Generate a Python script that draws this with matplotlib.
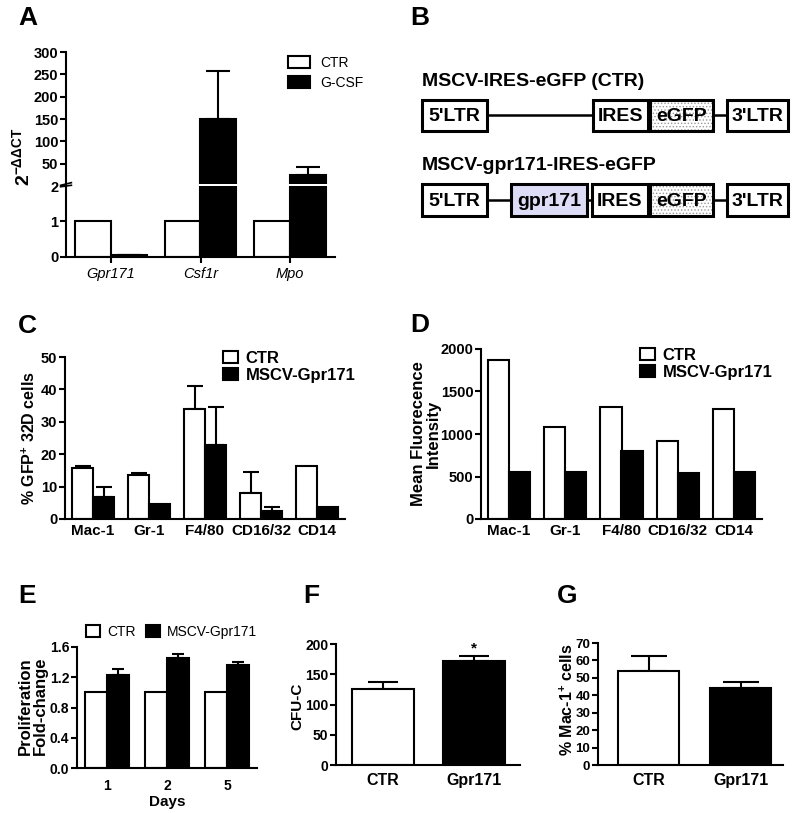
import numpy as np
import matplotlib
matplotlib.use('Agg')
import matplotlib.pyplot as plt
from matplotlib.patches import Patch, Rectangle

# --- data ---
# A: qPCR, 2^-ddCT
genes_a = ['Gpr171', 'Csf1r', 'Mpo']
ctr_a = [1, 1, 1]
gcsf_a = [0.05, 150, 25]
gcsf_a_err = [0.02, 108, 17]

# C / D: surface markers
markers = ['Mac-1', 'Gr-1', 'F4/80', 'CD16/32', 'CD14']
ctr_c = [15.6, 13.5, 34.0, 7.9, 16.4]
ctr_c_err = [0.7, 0.8, 7.2, 6.7, 0]
gpr_c = [6.8, 4.5, 22.8, 2.4, 3.6]
gpr_c_err = [3.0, 0, 11.9, 1.2, 0]
ctr_d = [1875, 1077, 1316, 923, 1297]
gpr_d = [558, 558, 802, 546, 554]

# E: proliferation
days = ['1', '2', '5']
ctr_e = [1.0, 1.0, 1.0]
gpr_e = [1.23, 1.455, 1.357]
gpr_e_err = [0.075, 0.055, 0.04]

# F / G
groups = ['CTR', 'Gpr171']
cfu = [125.5, 171.5]
cfu_err = [11, 8]
mac1 = [53.7, 44.0]
mac1_err = [8.6, 3.4]

# B: constructs
construct_titles = ['MSCV-IRES-eGFP (CTR)', 'MSCV-gpr171-IRES-eGFP']
construct_parts = [["5'LTR", 'IRES', 'eGFP', "3'LTR"],
                   ["5'LTR", 'gpr171', 'IRES', 'eGFP', "3'LTR"]]

plt.rcParams['font.family'] = ['Liberation Sans', 'DejaVu Sans']
plt.rcParams['font.weight'] = 'bold'
plt.rcParams['axes.labelweight'] = 'bold'
plt.rcParams['mathtext.fontset'] = 'custom'
plt.rcParams['mathtext.rm'] = 'Liberation Sans:bold'
plt.rcParams['mathtext.bf'] = 'Liberation Sans:bold'
plt.rcParams['mathtext.it'] = 'Liberation Sans:bold:italic'
plt.rcParams['mathtext.default'] = 'bf'
plt.rcParams['hatch.linewidth'] = 0.6

W, H = 800, 813
LW = 1.5


def px_box(x0, y0, x1, y1):
    return [x0 / W, 1 - y1 / H, (x1 - x0) / W, (y1 - y0) / H]


def fpt(x, y):
    return (x / W, 1 - y / H)


def style(ax, size=10):
    ax.spines['top'].set_visible(False)
    ax.spines['right'].set_visible(False)
    ax.spines['left'].set_linewidth(LW)
    ax.spines['bottom'].set_linewidth(LW)
    ax.tick_params(width=LW, length=4, labelsize=size)
    ax.tick_params(axis='y', pad=1.5)


def bold_ticks(ax):
    for t in ax.get_yticklabels():
        t.set_fontweight('bold')


def err_up(ax, x, vals, errs, cap, vmin=0):
    x = np.asarray(x, float)
    vals = np.asarray(vals, float)
    errs = np.asarray(errs, float)
    m = (errs > 0) & (vals >= vmin)
    if m.any():
        ax.errorbar(x[m], vals[m], yerr=[np.zeros(m.sum()), errs[m]], fmt='none',
                    ecolor='black', elinewidth=LW, capsize=cap, capthick=LW, zorder=0.5)


def legend(handles_lab, xy, size, weight='bold', ncol=1, hl=0.9, hh=0.75, tp=0.45, ls=0.1, cs=0.7):
    hs = [Patch(facecolor=c, edgecolor='black', linewidth=LW, label=l) for l, c in handles_lab]
    fig.legend(handles=hs, loc='upper left', bbox_to_anchor=fpt(*xy), frameon=False,
               borderpad=0, borderaxespad=0, handlelength=hl, handleheight=hh,
               handletextpad=tp, labelspacing=ls, columnspacing=cs, ncol=ncol,
               prop={'size': size, 'weight': weight})


fig = plt.figure(figsize=(8, 8.13), dpi=100)

# ---------------- A (broken axis) ----------------
axA_hi = fig.add_axes(px_box(66, 52, 335, 184))
axA_lo = fig.add_axes(px_box(66, 186, 335, 257))
xa = np.arange(len(genes_a))
wa = 0.4
for ax, vmin in ((axA_hi, 5), (axA_lo, 0)):
    ax.bar(xa - wa / 2, ctr_a, wa, color='white', edgecolor='black', linewidth=LW)
    ax.bar(xa + wa / 2, gcsf_a, wa, color='black', edgecolor='black', linewidth=LW)
    err_up(ax, xa + wa / 2, gcsf_a, gcsf_a_err, 8.5, vmin)
    style(ax, 10.5)
    ax.set_xlim(-0.5, 2.5)
axA_hi.set_ylim(5, 300)
axA_hi.set_yticks([50, 100, 150, 200, 250, 300])
axA_hi.spines['bottom'].set_visible(False)
axA_hi.tick_params(bottom=False, labelbottom=False)
axA_lo.set_ylim(0, 2)
axA_lo.set_yticks([0, 1, 2])
axA_lo.spines['top'].set_visible(False)
axA_lo.set_xticks(xa, genes_a, style='italic', weight='normal', fontsize=10.5)
bold_ticks(axA_hi)
bold_ticks(axA_lo)
for ax, y in ((axA_lo, 1.0), (axA_hi, 0.0)):
    ax.plot([-0.02, 0.02], [y - 0.01, y + 0.01], transform=ax.transAxes, color='black',
            lw=1.2, clip_on=False)
axA_hi.set_ylabel(r'$2^{-\Delta\Delta CT}$', fontsize=14)
axA_hi.yaxis.set_label_coords(*fpt(33, 157), transform=fig.transFigure)
legend([('CTR', 'white'), ('G-CSF', 'black')], (288, 56), 10, weight='normal',
       hl=1.6, hh=0.9, tp=0.7, ls=0.4)

# ---------------- B (constructs) ----------------
axB = fig.add_axes(px_box(400, 40, 800, 240))
axB.set_xlim(400, 800)
axB.set_ylim(240, 40)
axB.axis('off')
row_spans = [[(422, 487), (593, 648), (650, 713), (727, 788)],
             [(422, 487), (511, 587), (592, 648), (650, 713), (727, 788)]]
row_y = [(100, 131), (184, 216)]
title_y = [82, 165]
for title, parts, spans, (y0, y1), ty in zip(construct_titles, construct_parts, row_spans, row_y, title_y):
    axB.text(422, ty, title, fontsize=14, va='center', ha='left')
    ym = (y0 + y1) / 2
    axB.plot([spans[0][0], spans[-1][1]], [ym, ym], color='black', lw=1.8, zorder=1)
    for lab, (x0, x1) in zip(parts, spans):
        fc = '#dcdcf7' if lab == 'gpr171' else 'white'
        axB.add_patch(Rectangle((x0, y0), x1 - x0, y1 - y0, facecolor=fc, edgecolor='none', zorder=2))
        if lab == 'eGFP':
            axB.add_patch(Rectangle((x0, y0), x1 - x0, y1 - y0, facecolor='none', hatch='.....',
                                    edgecolor='#9a9a9a', linewidth=0, zorder=2.5))
        axB.add_patch(Rectangle((x0, y0), x1 - x0, y1 - y0, facecolor='none', edgecolor='black',
                                linewidth=2.2, zorder=3))
        axB.text((x0 + x1) / 2, ym + 1, lab, fontsize=14, ha='center', va='center', zorder=4)

# ---------------- C / D ----------------
xm = np.arange(len(markers))
wc = 0.375
axC = fig.add_axes(px_box(65, 357, 345, 519))
axC.bar(xm - wc / 2, ctr_c, wc, color='white', edgecolor='black', linewidth=LW)
axC.bar(xm + wc / 2, gpr_c, wc, color='black', edgecolor='black', linewidth=LW)
err_up(axC, xm - wc / 2, ctr_c, ctr_c_err, 5.5)
err_up(axC, xm + wc / 2, gpr_c, gpr_c_err, 5.5)
style(axC, 10.5)
axC.set_xlim(-0.5, 4.5)
axC.set_ylim(0, 50)
axC.set_yticks([0, 10, 20, 30, 40, 50])
axC.set_xticks(xm, markers, fontsize=11)
axC.tick_params(axis='x', length=0)
bold_ticks(axC)
axC.set_ylabel(r'% GFP$^{+}$ 32D cells', fontsize=11.5)
axC.yaxis.set_label_coords(*fpt(38, 438), transform=fig.transFigure)
legend([('CTR', 'white'), ('MSCV-Gpr171', 'black')], (223, 351), 12)

axD = fig.add_axes(px_box(481, 349, 762, 519))
axD.bar(xm - wc / 2, ctr_d, wc, color='white', edgecolor='black', linewidth=LW)
axD.bar(xm + wc / 2, gpr_d, wc, color='black', edgecolor='black', linewidth=LW)
style(axD, 10.5)
axD.set_xlim(-0.5, 4.5)
axD.set_ylim(0, 2000)
axD.set_yticks([0, 500, 1000, 1500, 2000])
axD.set_xticks(xm, markers, fontsize=11)
axD.tick_params(axis='x', length=0)
bold_ticks(axD)
axD.set_ylabel('Mean Fluorecence\nIntensity', fontsize=12, linespacing=1.0)
axD.yaxis.set_label_coords(*fpt(441, 434), transform=fig.transFigure)
legend([('CTR', 'white'), ('MSCV-Gpr171', 'black')], (640, 348), 12)

# ---------------- E ----------------
xe = np.arange(len(days))
we = 0.36
axE = fig.add_axes(px_box(77, 647, 257, 768))
axE.bar(xe - we / 2, ctr_e, we, color='white', edgecolor='black', linewidth=LW)
axE.bar(xe + we / 2, gpr_e, we, color='black', edgecolor='black', linewidth=LW)
err_up(axE, xe + we / 2, gpr_e, gpr_e_err, 4)
style(axE, 10)
axE.set_xlim(-0.5, 2.5)
axE.set_ylim(0, 1.6)
axE.set_yticks([0.0, 0.4, 0.8, 1.2, 1.6])
axE.set_yticklabels(['0.0', '0.4', '0.8', '1.2', '1.6'])
axE.set_xticks(xe, days, fontsize=10)
axE.tick_params(axis='x', length=0, pad=8)
bold_ticks(axE)
axE.set_xlabel('Days', fontsize=11, labelpad=1)
axE.set_ylabel('Proliferation\nFold-change', fontsize=12, linespacing=1.0)
axE.yaxis.set_label_coords(*fpt(48, 706), transform=fig.transFigure)
legend([('CTR', 'white'), ('MSCV-Gpr171', 'black')], (86, 625), 10, weight='normal',
       ncol=2, hl=1.0, hh=0.9, tp=0.5, cs=0.8)

# ---------------- F / G ----------------
xg = np.arange(len(groups))
axF = fig.add_axes(px_box(336, 644, 520, 765))
axF.bar(xg, cfu, 0.68, color=['white', 'black'], edgecolor='black', linewidth=LW)
err_up(axF, xg, cfu, cfu_err, 11)
style(axF, 10)
axF.set_xlim(-0.52, 1.51)
axF.set_ylim(0, 200)
axF.set_yticks([0, 50, 100, 150, 200])
axF.set_xticks(xg, groups, fontsize=11.5)
axF.tick_params(axis='x', length=0, pad=6)
bold_ticks(axF)
axF.text(1, 192, '*', ha='center', va='center', fontsize=11)
axF.set_ylabel('CFU-C', fontsize=11)
axF.yaxis.set_label_coords(*fpt(304, 706), transform=fig.transFigure)

axG = fig.add_axes(px_box(598, 643, 783, 765))
axG.bar(xg, mac1, 0.66, color=['white', 'black'], edgecolor='black', linewidth=LW)
err_up(axG, xg, mac1, mac1_err, 13)
style(axG, 9.5)
axG.set_xlim(-0.55, 1.46)
axG.set_ylim(0, 70)
axG.set_yticks(np.arange(0, 71, 10))
axG.set_xticks(xg, groups, fontsize=11.5)
axG.tick_params(axis='x', length=0, pad=6)
bold_ticks(axG)
axG.set_ylabel(r'% Mac-1$^{+}$ cells', fontsize=11.5)
axG.yaxis.set_label_coords(*fpt(576, 700), transform=fig.transFigure)

# panel letters
for lab, x, y in [('A', 18, 6), ('B', 410, 6), ('C', 18, 314), ('D', 410, 313),
                  ('E', 18, 584), ('F', 303, 584), ('G', 557, 584)]:
    fig.text(*fpt(x, y), lab, fontsize=19, va='top', ha='left')

fig.savefig('out.png', dpi=100)
